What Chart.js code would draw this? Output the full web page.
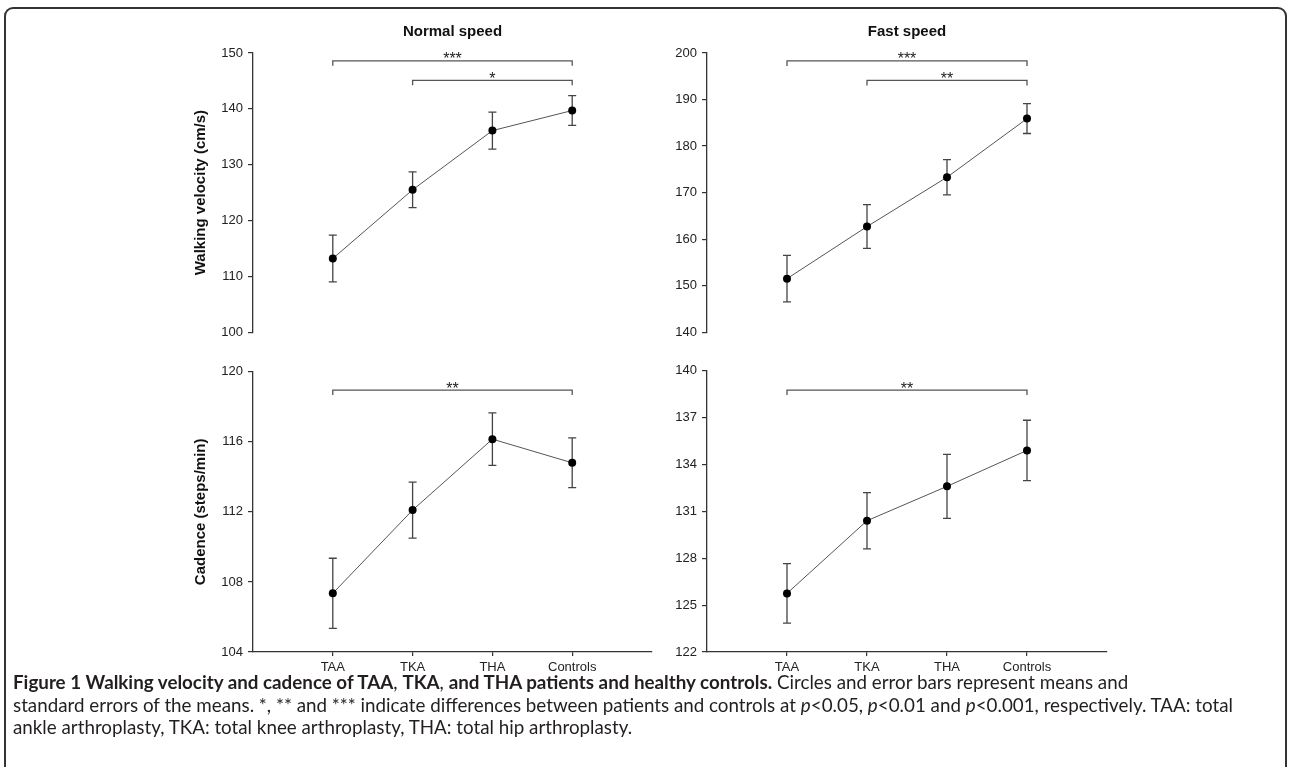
<!DOCTYPE html>
<html>
<head>
<meta charset="utf-8">
<script src="https://cdn.jsdelivr.net/npm/chart.js@4.4.1/dist/chart.umd.min.js"></script>
<style>
  html, body { margin: 0; padding: 0; background: #fff; }
  body { width: 1290px; height: 767px; position: relative; overflow: hidden; }
  #frame { position: absolute; left: 4px; top: 7px; width: 1283px; height: 820px;
           border: 2px solid #333; border-radius: 9px; box-sizing: border-box; }
  canvas { position: absolute; }
  #caption { position: absolute; left: 13px; top: 671px; color: #231f20;
             font-family: Lato, "Open Sans", sans-serif; font-size: 16px; line-height: 22.5px; }
  #caption div { white-space: nowrap; }
</style>
</head>
<body>
<div id="frame"></div>
<canvas id="velNormal" style="left:192px;top:0px" width="468" height="345"></canvas>
<canvas id="velFast" style="left:660px;top:0px" width="460" height="345"></canvas>
<canvas id="cadNormal" style="left:192px;top:345px" width="468" height="355"></canvas>
<canvas id="cadFast" style="left:660px;top:345px" width="460" height="355"></canvas>
<div id="caption">
  <div id="cap1"><b>Figure 1 Walking velocity and cadence of TAA</b>, <b>TKA</b>, <b>and THA patients and healthy controls.</b> Circles and error bars represent means and</div>
  <div>standard errors of the means. *, ** and *** indicate differences between patients and controls at <i>p</i>&lt;0.05, <i>p</i>&lt;0.01 and <i>p</i>&lt;0.001, respectively. TAA: total</div>
  <div>ankle arthroplasty, TKA: total knee arthroplasty, THA: total hip arthroplasty.</div>
</div>
<script>
// groups on the x axis
var categories = ['TAA', 'TKA', 'THA', 'Controls'];
var catPos = [1, 2, 3, 4];

// means and standard errors
var velNormal = [113.2, 125.5, 136.1, 139.7];
var velNormalSE = [4.2, 3.2, 3.3, 2.65];
var velFast = [151.5, 162.7, 173.3, 185.9];
var velFastSE = [5.0, 4.7, 3.8, 3.2];
var cadNormal = [107.35, 112.1, 116.15, 114.8];
var cadNormalSE = [2.0, 1.6, 1.5, 1.42];
var cadFast = [125.75, 130.4, 132.6, 134.9];
var cadFastSE = [1.9, 1.8, 2.05, 1.93];

// y axis ranges: min, max, step
var velNormalTicks = [100, 150, 10];
var velFastTicks = [140, 200, 10];
var cadNormalTicks = [104, 120, 4];
var cadFastTicks = [122, 140, 3];

// significance brackets: label, from group, to group, level (axis units)
var sigVelNormal = [['***', 0, 3, 148.6], ['*', 1, 3, 145.1]];
var sigVelFast = [['***', 0, 3, 198.3], ['**', 1, 3, 194.1]];
var sigCadNormal = [['**', 0, 3, 118.95]];
var sigCadFast = [['**', 0, 3, 138.76]];

var FONT = '"Liberation Sans", Arial, sans-serif';

var extras = {
	id: 'extras',
	beforeDatasetsDraw: function (chart, args, opts) {
		var xs = chart.scales.x, ys = chart.scales.y, ctx = chart.ctx;
		var pts = chart.data.datasets[0].data;
		ctx.save();
		ctx.strokeStyle = '#444';
		ctx.lineWidth = 1.3;
		for (var i = 0; i < pts.length; i++) {
			var px = xs.getPixelForValue(pts[i].x);
			var top = ys.getPixelForValue(pts[i].y + opts.se[i]);
			var bot = ys.getPixelForValue(pts[i].y - opts.se[i]);
			ctx.beginPath();
			ctx.moveTo(px, top); ctx.lineTo(px, bot);
			ctx.moveTo(px - 4, top); ctx.lineTo(px + 4, top);
			ctx.moveTo(px - 4, bot); ctx.lineTo(px + 4, bot);
			ctx.stroke();
		}
		// brackets
		ctx.strokeStyle = '#555';
		ctx.fillStyle = '#222';
		ctx.font = '16px ' + FONT;
		ctx.textAlign = 'center';
		ctx.textBaseline = 'alphabetic';
		opts.sig.forEach(function (s) {
			var x1 = xs.getPixelForValue(catPos[s[1]]);
			var x2 = xs.getPixelForValue(catPos[s[2]]);
			var yy = ys.getPixelForValue(s[3]);
			ctx.beginPath();
			ctx.moveTo(x1, yy + 5); ctx.lineTo(x1, yy); ctx.lineTo(x2, yy); ctx.lineTo(x2, yy + 5);
			ctx.stroke();
			ctx.fillText(s[0], (x1 + x2) / 2, yy + 3.5);
		});
		ctx.restore();
	}
};

function points(values) {
	var out = [];
	for (var i = 0; i < values.length; i++) {
		out.push({x: catPos[i], y: values[i]});
	}
	return out;
}

function panelBuilder(id, values, se, range, sig, opt) {
	var ctx = document.getElementById(id);
	var yAxis = {
		type: 'linear',
		min: range[0], max: range[1],
		afterFit: function (s) { s.width = opt.yWidth; },
		ticks: {stepSize: range[2], color: '#222', padding: 5, font: {family: FONT, size: 13}},
		grid: {drawOnChartArea: false, color: '#333', tickLength: 5, lineWidth: 1.2},
		border: {color: '#333', width: 1.3},
		title: {display: !!opt.yTitle, text: opt.yTitle, color: '#111', padding: {top: 0, bottom: 0},
			font: {family: FONT, size: 15, weight: 'bold'}}
	};
	var xAxis = {
		type: 'linear',
		min: 0, max: 5,
		display: opt.showX,
		afterBuildTicks: function (s) {
			s.ticks = s.ticks.filter(function (t) { return t.value >= 1 && t.value <= 4; });
		},
		afterFit: function (s) { s.height = opt.showX ? 48 : 0; },
		ticks: {stepSize: 1, autoSkip: false, maxRotation: 0, color: '#222', padding: 4,
			font: {family: FONT, size: 13},
			callback: function (v) { return categories[catPos.indexOf(v)]; }},
		grid: {drawOnChartArea: false, color: '#333', tickLength: 4, lineWidth: 1.2},
		border: {color: '#333', width: 1.3}
	};
	return new Chart(ctx, {
		type: 'scatter',
		data: {
			datasets: [{
				data: points(values),
				showLine: true,
				borderColor: '#555',
				borderWidth: 1,
				pointRadius: 4,
				pointBackgroundColor: '#000',
				pointBorderColor: '#000',
				pointBorderWidth: 0
			}]
		},
		options: {
			responsive: false,
			animation: false,
			layout: {padding: opt.padding},
			scales: {x: xAxis, y: yAxis},
			plugins: {
				legend: {display: false},
				tooltip: {enabled: false},
				title: {display: !!opt.title, text: opt.title, color: '#111', fullSize: false,
					padding: {top: 0, bottom: 12}, font: {family: FONT, size: 15, weight: 'bold'}},
				extras: {se: se, sig: sig}
			}
		},
		plugins: [extras]
	});
}

panelBuilder('velNormal', velNormal, velNormalSE, velNormalTicks, sigVelNormal,
	{yWidth: 61, yTitle: 'Walking velocity (cm/s)', title: 'Normal speed', showX: false,
	 padding: {top: 23, right: 8, bottom: 12, left: 0}});
panelBuilder('velFast', velFast, velFastSE, velFastTicks, sigVelFast,
	{yWidth: 47, yTitle: '', title: 'Fast speed', showX: false,
	 padding: {top: 23, right: 13, bottom: 12, left: 0}});
panelBuilder('cadNormal', cadNormal, cadNormalSE, cadNormalTicks, sigCadNormal,
	{yWidth: 61, yTitle: 'Cadence (steps/min)', title: '', showX: true,
	 padding: {top: 26.7, right: 8, bottom: 0, left: 0}});
panelBuilder('cadFast', cadFast, cadFastSE, cadFastTicks, sigCadFast,
	{yWidth: 47, yTitle: '', title: '', showX: true,
	 padding: {top: 25.7, right: 13, bottom: 0, left: 0}});

// fit the caption to the width of the original first line
var cap = document.getElementById('caption');
var w = document.getElementById('cap1').getBoundingClientRect().width;
cap.style.fontSize = (16 * 1221 / w).toFixed(2) + 'px';
</script>
</body>
</html>
